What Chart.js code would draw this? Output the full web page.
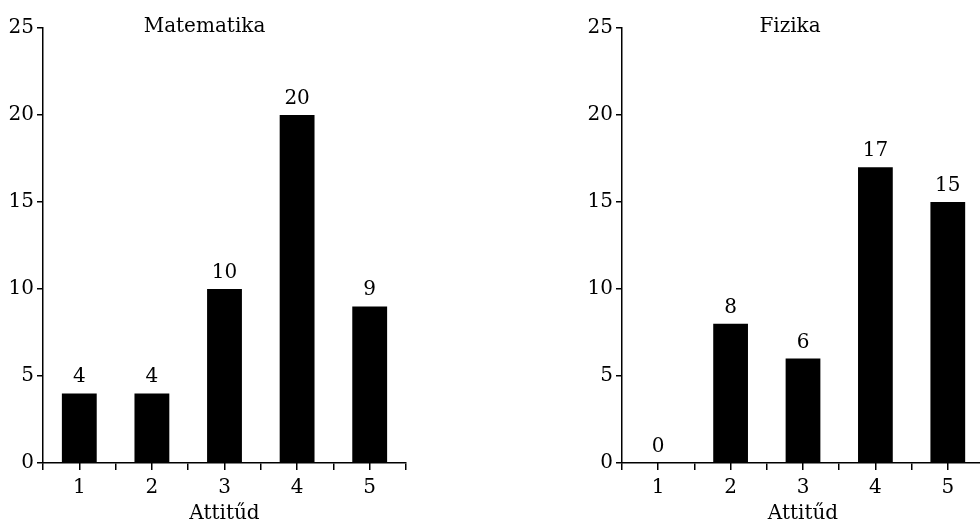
<!DOCTYPE html>
<html>
<head>
<meta charset="utf-8">
<script src="https://cdn.jsdelivr.net/npm/chart.js@4.4.0/dist/chart.umd.min.js"></script>
<style>
html,body{margin:0;padding:0;background:#fff;overflow:hidden;width:980px;height:522px}
#wrap{position:relative;width:980px;height:522px;overflow:hidden;background:#fff}
#c1{position:absolute;left:0;top:0}
#c2{position:absolute;left:560px;top:0}
</style>
</head>
<body>
<div id="wrap">
<canvas id="c1" width="420" height="522" style="width:420px;height:522px"></canvas>
<canvas id="c2" width="440" height="522" style="width:440px;height:522px"></canvas>
</div>
<script>
// ---- data ----
const attitudes = ['1', '2', '3', '4', '5'];
const mathValues = [4, 4, 10, 20, 9];
const physicsValues = [0, 8, 6, 17, 15];
const yTickValues = [0, 5, 10, 15, 20, 25];
const panelTitles = ['Matematika', 'Fizika'];
const xAxisTitle = 'Attitűd';

const FONT = '"DejaVu Serif", "Liberation Serif", serif';

const panelTitlePlugin = {
  id: 'panelTitle',
  afterDraw(chart, args, opts) {
    const ca = chart.chartArea;
    const ctx = chart.ctx;
    ctx.save();
    ctx.font = '20px ' + FONT;
    ctx.fillStyle = '#000';
    ctx.textAlign = 'center';
    ctx.textBaseline = 'alphabetic';
    ctx.fillText(opts.text, (ca.left + ca.right) / 2 + opts.dx, opts.y);
    ctx.restore();
  }
};

const valueLabelPlugin = {
  id: 'valueLabels',
  afterDatasetsDraw(chart) {
    const ctx = chart.ctx;
    ctx.save();
    ctx.font = '20px ' + FONT;
    ctx.fillStyle = '#000';
    ctx.textAlign = 'center';
    ctx.textBaseline = 'alphabetic';
    chart.data.datasets.forEach((ds, di) => {
      const meta = chart.getDatasetMeta(di);
      meta.data.forEach((bar, i) => {
        ctx.fillText(String(ds.data[i]), bar.x, bar.y - 11);
      });
    });
    ctx.restore();
  }
};

function makeChart(canvasId, values, title, titleDx, yAxisWidth, padRight) {
  return new Chart(document.getElementById(canvasId), {
    type: 'bar',
    data: {
      labels: attitudes,
      datasets: [{
        data: values,
        backgroundColor: '#000',
        borderWidth: 0,
        categoryPercentage: 1,
        barPercentage: 0.48
      }]
    },
    options: {
      responsive: false,
      animation: false,
      events: [],
      layout: { padding: { top: 28, left: 0, right: padRight, bottom: 0 } },
      plugins: {
        legend: { display: false },
        tooltip: { enabled: false },
        title: { display: false },
        panelTitle: { text: title, dx: titleDx, y: 32 }
      },
      scales: {
        x: {
          type: 'category',
          offset: true,
          weight: 0,
          ticks: {
            autoSkip: false,
            maxRotation: 0,
            padding: 6,
            color: '#000',
            font: { family: FONT, size: 20 }
          },
          grid: { offset: true, drawOnChartArea: false, drawTicks: true, tickLength: 7, color: '#000', lineWidth: 1.5 },
          border: { display: true, color: '#000', width: 1.5 },
          title: {
            display: true,
            text: xAxisTitle,
            color: '#000',
            font: { family: FONT, size: 20, lineHeight: 0.8 },
            padding: { top: 0, bottom: 0 }
          }
        },
        xCentre: {
          type: 'category',
          position: 'bottom',
          offset: true,
          weight: -1,
          ticks: { display: false },
          afterFit: s => { s.height = 0; },
          grid: { offset: false, drawOnChartArea: false, drawTicks: true, tickLength: 7, color: '#000', lineWidth: 1.5 },
          border: { display: false }
        },
        y: {
          min: 0,
          max: 25,
          afterBuildTicks: s => { s.ticks = yTickValues.map(v => ({ value: v })); },
          afterFit: s => { s.width = yAxisWidth; },
          ticks: {
            padding: 3,
            color: '#000',
            font: { family: FONT, size: 20 }
          },
          grid: { drawOnChartArea: false, drawTicks: true, tickLength: 6, color: '#000', lineWidth: 1.5 },
          border: { display: true, color: '#000', width: 1.5 }
        }
      }
    },
    plugins: [panelTitlePlugin, valueLabelPlugin]
  });
}

makeChart('c1', mathValues, panelTitles[0], -20, 43, 14);
makeChart('c2', physicsValues, panelTitles[1], -13, 62, 16);
</script>
</body>
</html>
